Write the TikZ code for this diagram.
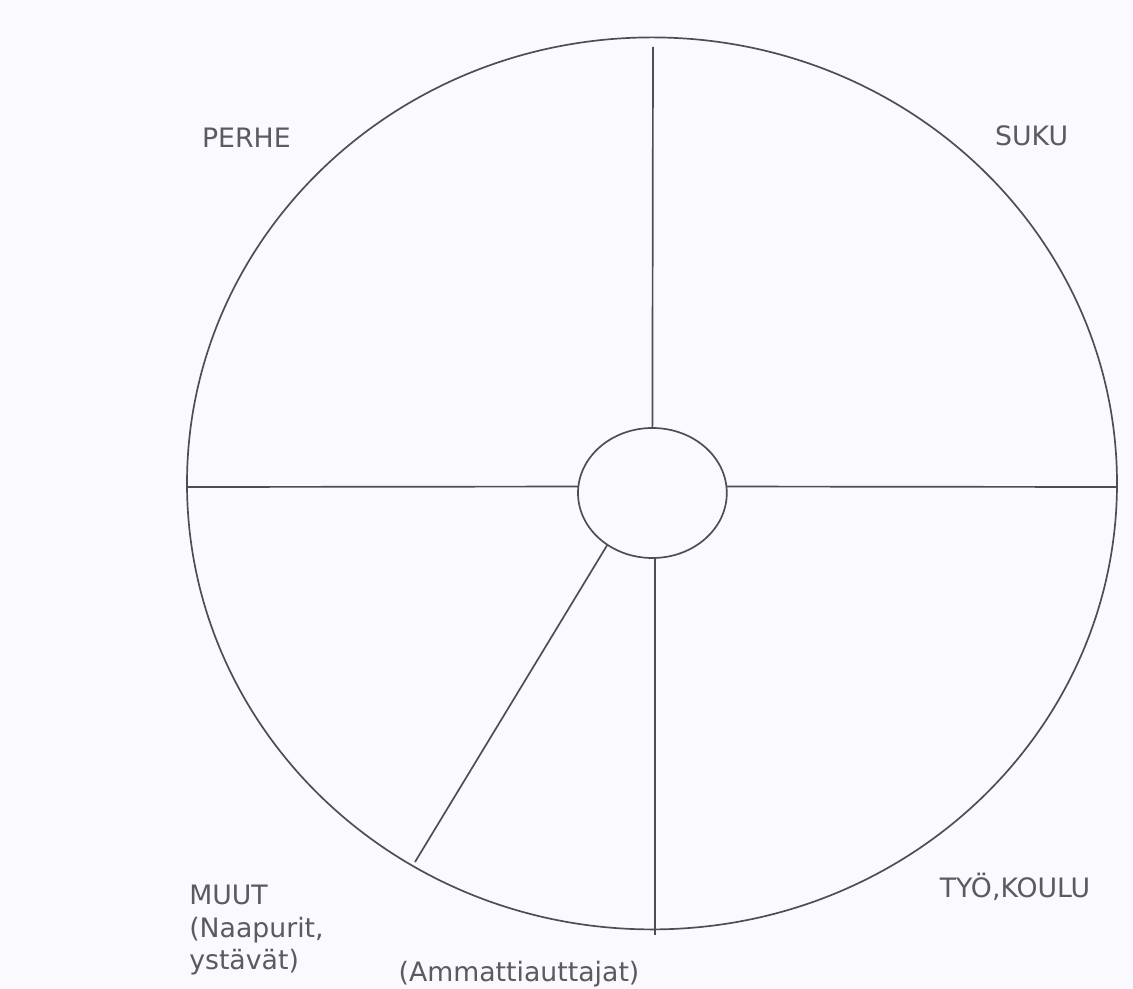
\documentclass[tikz,border=0pt]{standalone}
\usepackage{fontspec}
\setmainfont{DejaVu Sans}
\usepackage{xcolor}
\usepackage{tikz}
\usetikzlibrary{shapes.geometric}

\definecolor{inkline}{RGB}{78,78,82}
\definecolor{inktext}{RGB}{90,90,95}
\definecolor{paper}{RGB}{250,249,253}

\begin{document}
\begin{tikzpicture}[
  spoke/.style={draw=inkline, line width=1.2pt},
  ring/.style={draw=inkline, line width=1.2pt, ellipse, inner sep=0pt, outer sep=0pt},
  sector/.style={text=inktext, font=\fontsize{19}{23}\selectfont, inner sep=0pt}]
% Paper and frame
\fill[paper] (-16.3,12.175) rectangle (12.025,-12.525);
\useasboundingbox (-16.3,12.175) rectangle (12.025,-12.525);

% Outer ring and hub
\node[ring, minimum width=23.25cm, minimum height=22.3cm] (rim) at (0,0.09) {};
\node[ring, minimum width=3.72cm, minimum height=3.25cm] (hub) at (0.01,-0.15) {};

% Rim ends of the spokes
\coordinate (topend) at (0.025,11.0);
\coordinate (botend) at (0.075,-11.2);
\coordinate (leftend) at (-11.6,0);
\coordinate (rightend) at (11.625,0);
\coordinate (diagend) at (-5.925,-9.375);

% Spokes
\draw[spoke] (hub.north) -- (topend);
\draw[spoke] (hub.south -| botend) -- (botend);
\draw[spoke] (hub.175) -- (leftend);
\draw[spoke] (hub.5) -- (rightend);
\draw[spoke] (hub.229) -- (diagend);

% Sector labels
\node[sector, anchor=base] (perhe) at (-10.14,8.5) {PERHE};
\node[sector, anchor=base] (suku) at (9.49,8.55) {SUKU};
\node[sector, anchor=base] (tyo) at (9.075,-10.25) {TYÖ,KOULU};
\node[sector, anchor=north west, align=left] (muut) at (-11.575,-9.95)
  {MUUT\\(Naapurit,\\ystävät)};
\node[sector, anchor=base] (ammatti) at (-3.325,-12.35) {(Ammattiauttajat)};
\end{tikzpicture}
\end{document}
